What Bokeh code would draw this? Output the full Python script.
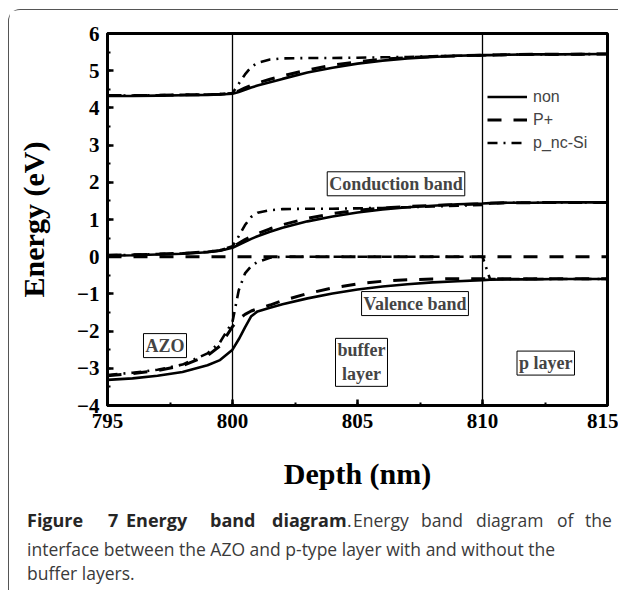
from bokeh.plotting import figure
from bokeh.layouts import column
from bokeh.models import (Range1d, SingleIntervalTicker, Span, Label, Legend, LegendItem)
from bokeh.embed import file_html
from bokeh.resources import INLINE

# ---------------- data ----------------
depth = [795, 796, 797, 798, 799, 799.5, 800, 800.25, 800.5, 800.75, 801, 801.5, 802,
         803, 804, 805, 806, 807, 808, 809, 810, 810.3, 811, 812, 813, 815]

# upper band group
non_upper = [4.32, 4.32, 4.33, 4.34, 4.35, 4.36, 4.38, 4.43, 4.49, 4.55, 4.60, 4.69, 4.78,
             4.95, 5.08, 5.19, 5.27, 5.33, 5.37, 5.40, 5.42, 5.42, 5.43, 5.44, 5.44, 5.45]
pplus_upper = [4.33, 4.33, 4.34, 4.35, 4.36, 4.37, 4.39, 4.46, 4.54, 4.61, 4.67, 4.77, 4.86,
               5.02, 5.15, 5.24, 5.31, 5.35, 5.38, 5.40, 5.42, 5.42, 5.43, 5.44, 5.44, 5.45]
pnc_upper = [4.33, 4.33, 4.34, 4.35, 4.36, 4.37, 4.40, 4.65, 4.90, 5.10, 5.21, 5.30, 5.33,
             5.34, 5.34, 5.35, 5.36, 5.37, 5.39, 5.40, 5.41, 5.42, 5.43, 5.44, 5.44, 5.45]

# conduction band
non_cond = [0.03, 0.04, 0.06, 0.08, 0.12, 0.16, 0.24, 0.32, 0.40, 0.48, 0.55, 0.67, 0.78,
            0.95, 1.08, 1.19, 1.27, 1.33, 1.37, 1.41, 1.43, 1.44, 1.45, 1.45, 1.46, 1.46]
pplus_cond = [0.04, 0.05, 0.07, 0.09, 0.13, 0.17, 0.26, 0.36, 0.46, 0.54, 0.62, 0.75, 0.86,
              1.03, 1.16, 1.25, 1.31, 1.35, 1.38, 1.40, 1.42, 1.44, 1.45, 1.45, 1.46, 1.46]
pnc_cond = [0.04, 0.05, 0.07, 0.09, 0.13, 0.17, 0.28, 0.55, 0.85, 1.07, 1.18, 1.25, 1.28,
            1.29, 1.29, 1.30, 1.31, 1.33, 1.35, 1.37, 1.39, 1.43, 1.45, 1.45, 1.46, 1.46]

# valence band
non_val = [-3.31, -3.27, -3.20, -3.10, -2.92, -2.78, -2.50, -2.22, -1.90, -1.60, -1.47, -1.37, -1.28,
           -1.12, -0.99, -0.88, -0.80, -0.74, -0.69, -0.66, -0.63, -0.62, -0.61, -0.61, -0.60, -0.60]
pplus_val = [-3.20, -3.14, -3.06, -2.93, -2.66, -2.40, -1.88, -1.68, -1.55, -1.46, -1.40, -1.30, -1.18,
             -0.99, -0.84, -0.73, -0.66, -0.62, -0.60, -0.59, -0.59, -0.59, -0.59, -0.59, -0.59, -0.59]
pnc_val = [-3.18, -3.12, -3.04, -2.90, -2.60, -2.30, -1.75, -0.90, -0.45, -0.25, -0.14, -0.03, 0.0,
           0.0, 0.0, 0.0, 0.0, 0.0, 0.0, 0.0, 0.0, -0.60, -0.60, -0.60, -0.60, -0.60]

# Fermi level (0 eV)
fermi_depth = [795, 815]
fermi_level = [0.0, 0.0]

# layer interfaces
interfaces = [800, 810]

x_ticks_interval = 5
y_ticks_interval = 1

series_names = ["non", "P+", "p_nc-Si"]

# text boxes: (x, y, text)
box_labels = [
    (806.54, 1.96, "Conduction band"),
    (807.3, -1.26, "Valence band"),
    (805.16, -2.84, "buffer\nlayer"),
    (812.53, -2.86, "p layer"),
    (797.3, -2.39, "AZO"),
]

# caption: first line word by word (bold flag), then two plain lines
caption_words1 = ["Figure", "7", "Energy", "band", "diagram", ".", "Energy", "band",
                  "diagram", "of", "the"]
caption_bold1 = [True, True, True, True, True, False, False, False, False, False, False]
caption_word_x1 = [27, 108, 126, 210, 272, 347, 353, 421, 476, 557, 585]
caption_line2 = "interface between the AZO and p-type layer with and without the"
caption_line3 = "buffer layers."

# ---------------- main figure ----------------
p = figure(width=609, height=484, output_backend="svg", toolbar_location=None,
           x_range=Range1d(795, 815), y_range=Range1d(-4, 6),
           min_border_left=98, min_border_right=11, min_border_top=23, min_border_bottom=89)
p.frame_align = False

p.xgrid.visible = False
p.ygrid.visible = False
p.outline_line_color = "black"
p.outline_line_width = 3
p.background_fill_color = "white"
p.border_fill_color = "white"

p.xaxis.ticker = SingleIntervalTicker(interval=x_ticks_interval, num_minor_ticks=2)
p.yaxis.ticker = SingleIntervalTicker(interval=y_ticks_interval, num_minor_ticks=2)

for ax in (p.xaxis, p.yaxis):
    ax.axis_line_width = 3
    ax.major_tick_in = 6
    ax.major_tick_out = 0
    ax.minor_tick_in = 3
    ax.minor_tick_out = 0
    ax.major_tick_line_width = 2.5
    ax.minor_tick_line_width = 2
    ax.major_label_text_font = "Liberation Serif"
    ax.major_label_text_font_style = "bold"
    ax.major_label_text_font_size = "21px"
    ax.major_label_text_color = "black"
    ax.axis_label_text_font = "Liberation Serif"
    ax.axis_label_text_font_style = "bold"
    ax.axis_label_text_font_size = "30px"
    ax.axis_label_text_color = "black"
    ax.major_label_standoff = 8

p.xaxis.axis_label = "Depth (nm)"
p.yaxis.axis_label = "Energy (eV)"
p.xaxis.axis_label_standoff = 26
p.yaxis.axis_label_standoff = 24

for loc in interfaces:
    p.add_layout(Span(location=loc, dimension="height", line_color="black", line_width=1.3))

solid = dict(line_color="black", line_width=2.6)
dashed = dict(line_color="black", line_width=3, line_dash="14 12")
dashdot = dict(line_color="black", line_width=2.6, line_dash="10 6 2 6")

r_non = p.line(depth, non_upper, **solid)
p.line(depth, non_cond, **solid)
p.line(depth, non_val, **solid)

r_pp = p.line(depth, pplus_upper, **dashed)
p.line(depth, pplus_cond, **dashed)
p.line(depth, pplus_val, **dashed)
p.line(fermi_depth, fermi_level, **dashed)

r_pnc = p.line(depth, pnc_upper, **dashdot)
p.line(depth, pnc_cond, **dashdot)
p.line(depth, pnc_val, **dashdot)

legend = Legend(items=[LegendItem(label=series_names[0], renderers=[r_non]),
                       LegendItem(label=series_names[1], renderers=[r_pp]),
                       LegendItem(label=series_names[2], renderers=[r_pnc])],
                location=(380, 253), border_line_color=None, background_fill_alpha=0,
                label_text_font="Liberation Sans", label_text_font_size="16px",
                glyph_width=40, glyph_height=19, label_height=19, spacing=4,
                padding=0, margin=0, label_standoff=6)
p.add_layout(legend)

for (bx, by, btxt) in box_labels:
    p.add_layout(Label(x=bx, y=by, text=btxt, text_font="Liberation Serif",
                       text_font_style="bold", text_font_size="18px",
                       text_align="center", text_baseline="middle",
                       border_line_color="black", border_line_width=1,
                       background_fill_color="white", padding=2))

# ---------------- caption panel (coordinates = page pixels) ----------------
cap = figure(width=609, height=96, output_backend="svg", toolbar_location=None,
             x_range=Range1d(9.5, 618.5), y_range=Range1d(590.5, 494.5),
             min_border=0, outline_line_color=None)
cap.frame_align = False
cap.axis.visible = False
cap.grid.visible = False
cap.border_fill_color = "white"

cap_color = "#3a3a3a"
for w, b, wx in zip(caption_words1, caption_bold1, caption_word_x1):
    cap.add_layout(Label(x=wx, y=520, text=w, text_font="Open Sans",
                         text_font_style="bold" if b else "normal",
                         text_font_size="18px" if b else "17.5px",
                         text_baseline="alphabetic",
                         text_color="#262626" if b else cap_color))
cap.add_layout(Label(x=27, y=549, text=caption_line2, text_font="Open Sans",
                     text_font_size="17.5px", text_baseline="alphabetic", text_color=cap_color))
cap.add_layout(Label(x=27, y=573, text=caption_line3, text_font="Open Sans",
                     text_font_size="17.5px", text_baseline="alphabetic", text_color=cap_color))

layout = column(p, cap, spacing=0)
layout.styles = {"margin-left": "8px", "margin-top": "9px",
                 "border-left": "1.5px solid #555", "border-top": "1.5px solid #555",
                 "border-top-left-radius": "12px"}

open("out.html", "w").write(file_html(layout, INLINE))
